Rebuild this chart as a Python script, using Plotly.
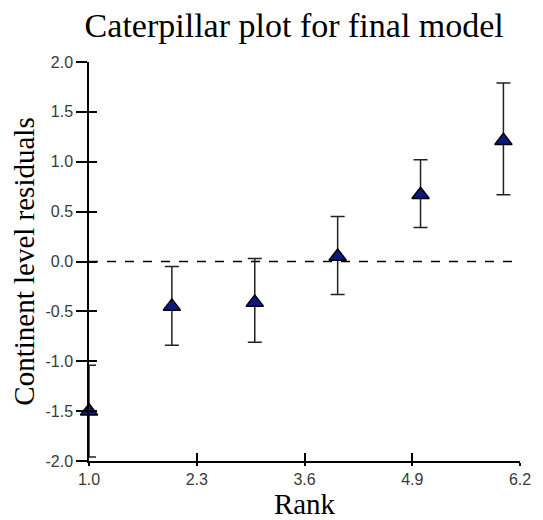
import plotly.graph_objects as go

rank = [1, 2, 3, 4, 5, 6]
residual = [-1.50, -0.45, -0.41, 0.05, 0.67, 1.21]
upper = [-1.04, -0.05, 0.03, 0.45, 1.02, 1.79]
lower = [-1.96, -0.84, -0.81, -0.33, 0.34, 0.67]
x_ticks = [1.0, 2.3, 3.6, 4.9, 6.2]
y_ticks = [-2.0, -1.5, -1.0, -0.5, 0.0, 0.5, 1.0, 1.5, 2.0]

err_plus = [u - r for u, r in zip(upper, residual)]
err_minus = [r - l for r, l in zip(residual, lower)]

fig = go.Figure()
fig.add_trace(go.Scatter(
    x=rank, y=residual, mode="markers",
    marker=dict(symbol="triangle-up", size=15, color="#0a1a80",
                line=dict(color="black", width=1.5)),
    error_y=dict(type="data", array=err_plus, arrayminus=err_minus,
                 color="#222222", thickness=1.5, width=7),
    cliponaxis=False, showlegend=False,
))

fig.add_shape(type="line", xref="paper", x0=0, x1=1, yref="y", y0=0, y1=0,
              line=dict(color="black", width=1.5, dash="dash"))

serif = "Liberation Serif, Times New Roman"
tickfont = dict(family="Liberation Sans, Arial", size=16, color="#3a3a3a")
fig.update_layout(
    width=535, height=512,
    margin=dict(l=81, r=16, t=54, b=55),
    plot_bgcolor="white", paper_bgcolor="white",
    title=dict(text="Caterpillar plot for final model",
               font=dict(family=serif, size=34, color="black"),
               x=0.535, xanchor="center", y=0.966, yanchor="middle"),
    xaxis=dict(range=[1.0, 6.2], tickvals=x_ticks, ticktext=[f"{v:.1f}" for v in x_ticks],
               showgrid=False, zeroline=False, showline=True, linecolor="black", linewidth=1.5,
               ticks="outside", ticklen=3, tickwidth=1.5, tickcolor="black",
               tickfont=tickfont, ticklabelstandoff=0,
               title=dict(text="Rank", font=dict(family=serif, size=29, color="black"),
                          standoff=0)),
    yaxis=dict(range=[-2.0, 2.0], tickvals=y_ticks, ticktext=[f"{v:.1f}" for v in y_ticks],
               showgrid=False, zeroline=False, showline=True, linecolor="black", linewidth=1.5,
               ticks="outside", ticklen=11, tickwidth=1.5, tickcolor="black",
               tickfont=tickfont, ticklabelstandoff=0,
               title=dict(text="Continent level residuals", font=dict(family=serif, size=29, color="black"),
                          standoff=4)),
    xaxis2=dict(overlaying="x", matches="x", range=[1.0, 6.2], tickvals=x_ticks, showticklabels=False,
                ticks="inside", ticklen=8, tickwidth=1.5, tickcolor="black", showgrid=False,
                zeroline=False, showline=False, anchor="y", side="bottom"),
    yaxis2=dict(overlaying="y", matches="y", range=[-2.0, 2.0], tickvals=y_ticks, showticklabels=False,
                ticks="inside", ticklen=8, tickwidth=1.5, tickcolor="black", showgrid=False,
                zeroline=False, showline=False, anchor="x", side="left"),
)
fig.add_trace(go.Scatter(x=[None], y=[None], xaxis="x2", yaxis="y2", showlegend=False, hoverinfo="skip"))

fig.write_html("out.html")
